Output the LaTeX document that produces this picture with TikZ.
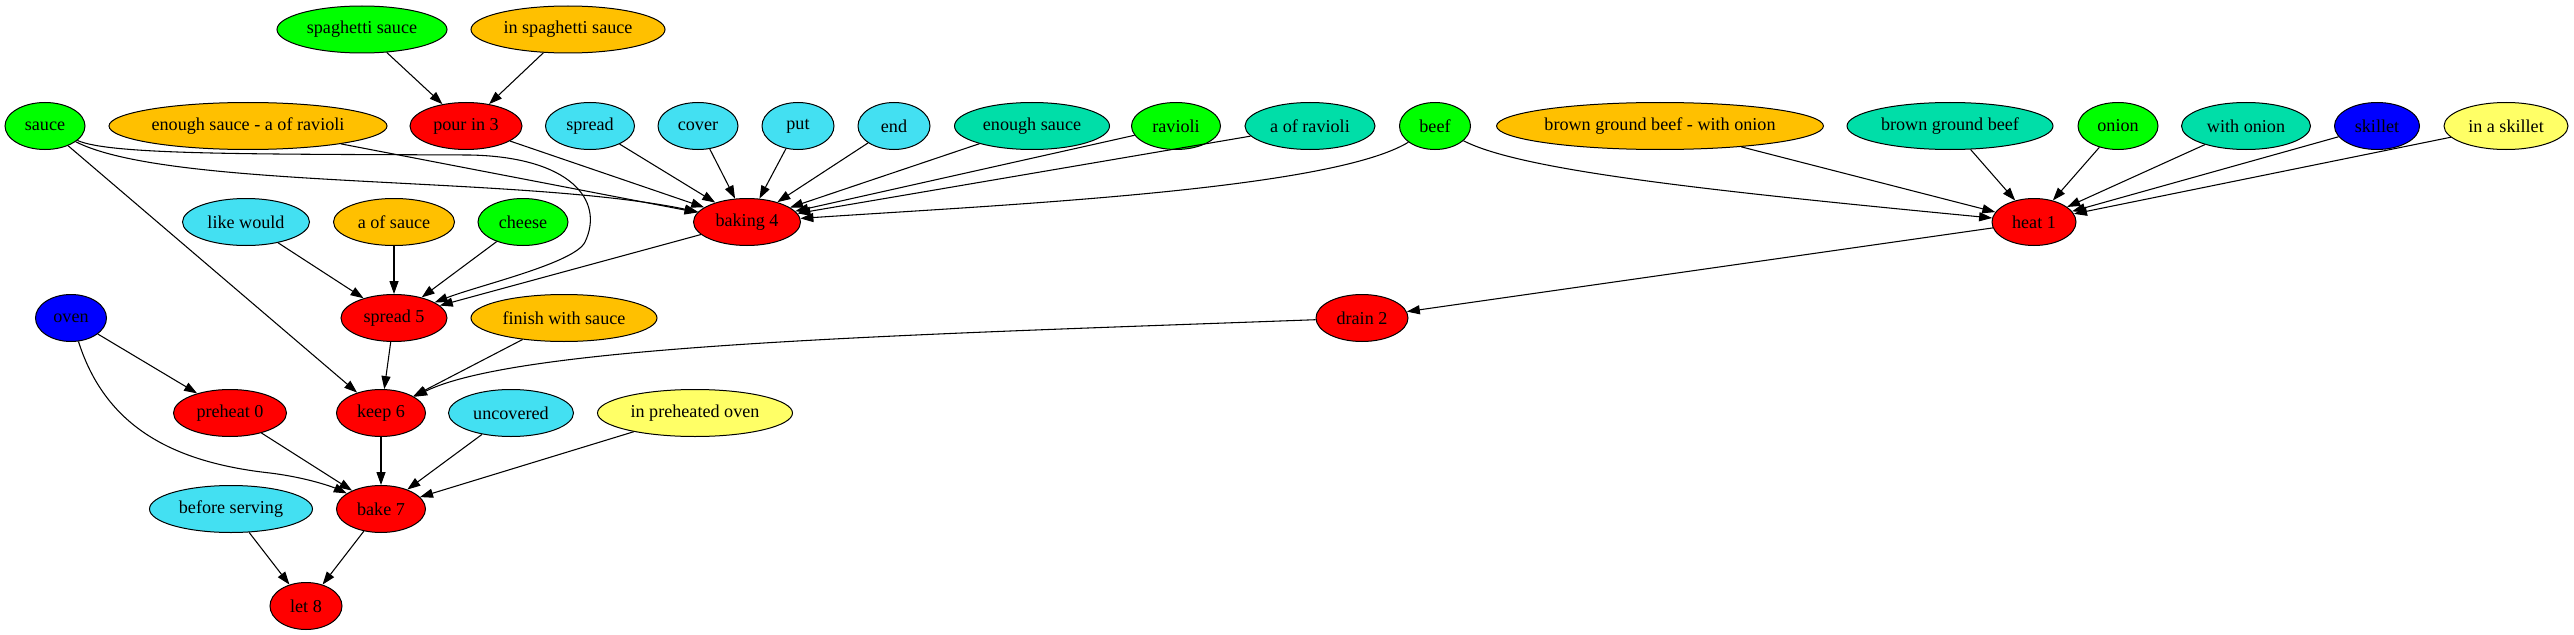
\documentclass[tikz,border=0pt]{standalone}
\usepackage{fontspec}
\setmainfont{Liberation Serif}
\usetikzlibrary{arrows.meta,shapes.geometric}
\definecolor{cred}{HTML}{FF0000}
\definecolor{cgreen}{HTML}{00FF00}
\definecolor{cgold}{HTML}{FFC000}
\definecolor{ccyan}{HTML}{43E0F2}
\definecolor{cteal}{HTML}{00DEA8}
\definecolor{cblue}{HTML}{0000FF}
\definecolor{cyellow}{HTML}{FFFF66}
\tikzset{
  nd/.style={ellipse, draw=black, line width=0.75pt, inner sep=0pt,
    minimum height=35.25pt, font=\fontsize{13.6}{16}\selectfont},
  wd/.style={minimum width=#1*0.75pt},
  fred/.style={nd, fill=cred},
  fgreen/.style={nd, fill=cgreen},
  fgold/.style={nd, fill=cgold},
  fcyan/.style={nd, fill=ccyan},
  fteal/.style={nd, fill=cteal},
  fblue/.style={nd, fill=cblue},
  fyellow/.style={nd, fill=cyellow},
  conn/.style={draw=black, line width=0.8pt, -{Triangle[length=9.75pt,width=6.8pt]}}
}
\begin{document}
\begin{tikzpicture}[x=0.75pt, y=-0.75pt]
\useasboundingbox (0,0) rectangle (2574,635);
% row 0
\node[fgreen, wd=170] (ss) at (362,29.5) {spaghetti sauce};
\node[fgold, wd=194] (iss) at (568,29.5) {in spaghetti sauce};
% row 1
\node[fgreen, wd=80] (sauce) at (45,126) {sauce};
\node[fgold, wd=278] (esar) at (248,126) {enough sauce - a of ravioli};
\node[fred, wd=112] (pour) at (466,126) {pour in 3};
\node[fcyan, wd=89] (spread) at (590,126) {spread};
\node[fcyan, wd=80] (cover) at (698,126) {cover};
\node[fcyan, wd=72] (put) at (798,126) {put};
\node[fcyan, wd=72] (end) at (894,126) {end};
\node[fteal, wd=155] (es) at (1032,126) {enough sauce};
\node[fgreen, wd=89] (ravioli) at (1176,126) {ravioli};
\node[fteal, wd=130] (aor) at (1310,126) {a of ravioli};
\node[fgreen, wd=71] (beef) at (1435,126) {beef};
\node[fgold, wd=326] (bgbwo) at (1660,126) {brown ground beef - with onion};
\node[fteal, wd=206] (bgb) at (1950,126) {brown ground beef};
\node[fgreen, wd=80] (onion) at (2118,126) {onion};
\node[fteal, wd=129] (wonion) at (2246,126) {with onion};
\node[fblue, wd=85] (skillet) at (2377,126) {skillet};
\node[fyellow, wd=124] (ias) at (2506,126) {in a skillet};
% row 2
\node[fred, wd=107] (baking) at (747,222) {baking 4};
\node[fred, wd=84] (heat) at (2034,222) {heat 1};
\node[fcyan, wd=127] (lw) at (246,222) {like would};
\node[fgold, wd=121] (aos) at (394,222) {a of sauce};
\node[fgreen, wd=90] (cheese) at (523,222) {cheese};
% row 3
\node[fblue, wd=71] (oven) at (71,318) {oven};
\node[fred, wd=106] (spread5) at (394,318) {spread 5};
\node[fgold, wd=186] (fws) at (564,318) {finish with sauce};
\node[fred, wd=92] (drain) at (1362,318) {drain 2};
% row 4
\node[fred, wd=113] (preheat) at (230,413) {preheat 0};
\node[fred, wd=89] (keep) at (381,413) {keep 6};
\node[fcyan, wd=125] (uncovered) at (511,413) {uncovered};
\node[fyellow, wd=195] (ipo) at (695,413) {in preheated oven};
% row 5
\node[fcyan, wd=163] (bs) at (231,509) {before serving};
\node[fred, wd=89] (bake) at (381,509) {bake 7};
% row 6
\node[fred, wd=72] (let) at (306,606) {let 8};

% edges
\draw[conn] (ss) -- (pour);
\draw[conn] (iss) -- (pour);
\draw[conn] (pour) -- (baking);
\draw[conn] (spread) -- (baking);
\draw[conn] (cover) -- (baking);
\draw[conn] (put) -- (baking);
\draw[conn] (end) -- (baking);
\draw[conn] (es) -- (baking);
\draw[conn] (ravioli) -- (baking);
\draw[conn] (aor) -- (baking);
\draw[conn] (beef) .. controls (1330,190) and (1000,205) .. (baking);
\draw[conn] (esar) -- (baking);
\draw[conn] (sauce) .. controls (170,190) and (520,175) .. (baking);
\draw[conn] (sauce) .. controls (110,155) and (250,154) .. (470,155)
   .. controls (570,157) and (605,200) .. (585,242)
   .. controls (575,263) and (480,285) .. (spread5);
\draw[conn] (sauce) -- (keep);
\draw[conn] (baking) -- (spread5);
\draw[conn] (lw) -- (spread5);
\draw[conn] (aos) -- (spread5);
\draw[conn] (cheese) -- (spread5);
\draw[conn] (spread5) -- (keep);
\draw[conn] (fws) -- (keep);
\draw[conn] (drain) .. controls (900,335) and (520,345) .. (keep);
\draw[conn] (heat) -- (drain);
\draw[conn] (beef) .. controls (1520,170) and (1700,190) .. (heat);
\draw[conn] (bgbwo) -- (heat);
\draw[conn] (bgb) -- (heat);
\draw[conn] (onion) -- (heat);
\draw[conn] (wonion) -- (heat);
\draw[conn] (skillet) -- (heat);
\draw[conn] (ias) -- (heat);
\draw[conn] (oven) -- (preheat);
\draw[conn] (oven) .. controls (105,425) and (170,462) .. (270,473)
   .. controls (310,478) and (335,488) .. (bake);
\draw[conn] (preheat) -- (bake);
\draw[conn] (keep) -- (bake);
\draw[conn] (uncovered) -- (bake);
\draw[conn] (ipo) -- (bake);
\draw[conn] (bs) -- (let);
\draw[conn] (bake) -- (let);
\end{tikzpicture}
\end{document}
